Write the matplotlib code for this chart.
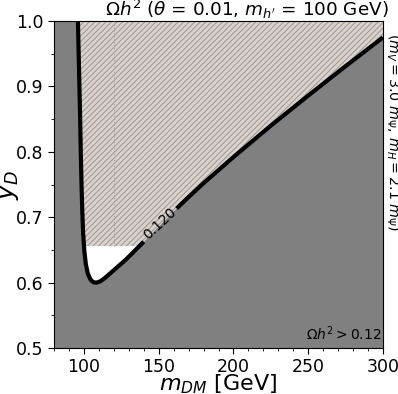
import numpy as np
import matplotlib
matplotlib.use("Agg")
import matplotlib.pyplot as plt
from matplotlib.ticker import MultipleLocator
from matplotlib.patches import Polygon

# Relic-density contour Omega h^2 = 0.120
curve_x = [96.0, 96.5, 97.0, 97.5, 97.9, 98.4, 98.9, 99.5, 100.3, 101.3,
           102.6, 104.3, 106.3, 108.5, 111.0, 114.0, 120.0, 128.0, 135.0,
           142.0, 150.0, 160.0, 171.0, 180.0, 200.0, 225.0, 250.0, 275.0, 300.0]
curve_y = [1.000, 0.950, 0.900, 0.850, 0.800, 0.750, 0.710, 0.675, 0.648, 0.628,
           0.614, 0.605, 0.6005, 0.600, 0.602, 0.607, 0.619, 0.635, 0.651,
           0.667, 0.686, 0.709, 0.733, 0.752, 0.792, 0.840, 0.886, 0.931, 0.975]
hatch_ymin = 0.656
dotted_x = 120.0
contour_level = "0.120"
label_x, label_y = 151.0, 0.690
gap_x = [140.0, 162.0]

plt.rcParams['hatch.linewidth'] = 0.8
fig = plt.figure(figsize=(3.98, 3.94), dpi=100)
ax = fig.add_axes([54/398, 1 - 348/394, 329/398, 327/394])
ax.set_xlim(80, 300)
ax.set_ylim(0.5, 1.0)
ax.set_facecolor('#808080')

cx = np.array(curve_x, dtype=float)
cy = np.array(curve_y, dtype=float)
px = np.concatenate([cx, [300.0, cx[0]]])
py = np.concatenate([cy, [1.0, 1.0]])
ax.fill(px, py, facecolor='white', edgecolor='none', zorder=1)

poly = Polygon(np.column_stack([px, py]), closed=True, transform=ax.transData)
hp = ax.fill_between([80, 300], [hatch_ymin, hatch_ymin], [1.0, 1.0],
                     facecolor='#d9d3d0', edgecolor='#a59a95', hatch='//////',
                     linewidth=0, zorder=2)
hp.set_clip_path(poly)
dl, = ax.plot([dotted_x, dotted_x], [hatch_ymin, 1.0], ls=':', color='#b09a90',
              lw=0.8, zorder=3)
dl.set_clip_path(poly)

gy = np.interp(gap_x, cx, cy)
left_x = np.concatenate([cx[cx < gap_x[0]], [gap_x[0]]])
left_y = np.concatenate([cy[cx < gap_x[0]], [gy[0]]])
right_x = np.concatenate([[gap_x[1]], cx[cx > gap_x[1]]])
right_y = np.concatenate([[gy[1]], cy[cx > gap_x[1]]])
ax.plot(left_x, left_y, color='black', lw=3.0, zorder=4, solid_capstyle='butt',
        solid_joinstyle='round')
ax.plot(right_x, right_y, color='black', lw=3.0, zorder=4, solid_capstyle='butt',
        solid_joinstyle='round')
ax.text(label_x, label_y, contour_level, rotation=43, ha='center', va='center',
        fontsize=10, zorder=5)

ax.text(0.997, 0.015, r'$\Omega h^2 > 0.12$', transform=ax.transAxes,
        ha='right', va='bottom', fontsize=10)

ax.set_title(r'$\Omega h^2$ ($\theta$ = 0.01, $m_{h^{\prime}}$ = 100 GeV)',
             fontsize=13.2, loc='right', pad=2, x=1.017)
ax.text(1.004, 0.66, r'$(m_V = 3.0\ m_\Psi,\, m_H = 2.1\ m_\Psi)$',
        transform=ax.transAxes, rotation=270, ha='left', va='center',
        fontsize=10.3)

ax.set_xlabel(r'$m_{DM}$ [GeV]', fontsize=16)
ax.set_ylabel(r'$y_D$', fontsize=18)
ax.xaxis.set_label_coords(0.5, -0.074)
ax.yaxis.set_label_coords(-0.10, 0.5)
ax.xaxis.set_major_locator(MultipleLocator(50))
ax.xaxis.set_minor_locator(MultipleLocator(10))
ax.yaxis.set_major_locator(MultipleLocator(0.1))
ax.yaxis.set_minor_locator(MultipleLocator(0.05))
ax.tick_params(labelsize=12.5)
ax.tick_params(which='major', length=4)
ax.tick_params(which='minor', length=2)

fig.savefig('out.png', dpi=100)
